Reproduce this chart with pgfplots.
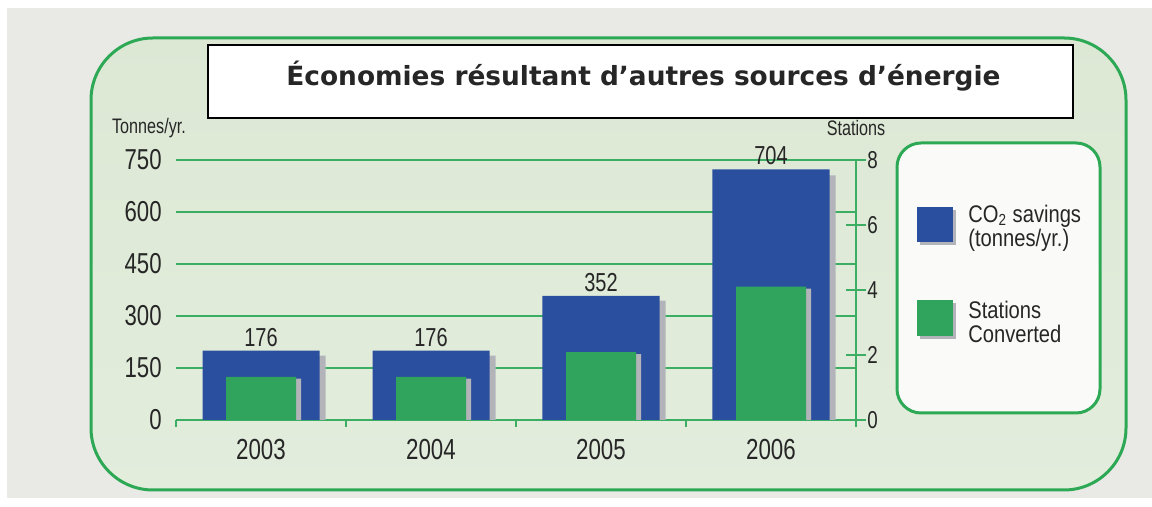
\documentclass[border=0pt]{standalone}
\usepackage{pgfplots}
\pgfplotsset{compat=1.18}
\usepackage{fontspec}
\setmainfont{Liberation Sans}[FakeStretch=0.77]
\newfontfamily\legfont{Liberation Sans}[FakeStretch=0.84]
\newfontfamily\titlefont{DejaVu Sans}

\definecolor{cobar}{HTML}{2B4F9F}
\definecolor{stbar}{HTML}{30A45D}
\definecolor{gline}{HTML}{3BAE63}
\definecolor{frame}{HTML}{2DA956}
\definecolor{shadow}{HTML}{B3B4BA}
\definecolor{txt}{HTML}{262626}
\definecolor{bggrey}{HTML}{E9E9E6}
\definecolor{ptop}{HTML}{D9E6D0}
\definecolor{pmid}{HTML}{E3EDDD}
\definecolor{pbot}{HTML}{F7F9F4}
\definecolor{legfill}{HTML}{FAFBF9}
\pgfdeclareverticalshading{panel}{100bp}{color(0bp)=(pbot); color(22bp)=(pmid); color(100bp)=(ptop)}

\begin{document}
\begin{tikzpicture}[x=1pt,y=1pt]
\path[use as bounding box] (0,0) rectangle (576,253.5);
\fill[white] (0,0) rectangle (576,253.5);
\fill[bggrey] (3.5,4.5) rectangle (576,249.5);

% panel
\shade[shading=panel, rounded corners=31pt] (45.5,8.5) rectangle (563,234.5);
\draw[frame, line width=1.5pt, rounded corners=31pt] (45.5,8.5) rectangle (563,234.5);

% title box
\draw[black, line width=1pt, fill=white] (104,194.5) rectangle (536.3,231);
\node[text=txt, font=\titlefont\bfseries\fontsize{13.2}{15}\selectfont] at (321.75,215.5)
  {Économies résultant d’autres sources d’énergie};

\node[text=txt, font=\fontsize{10.5}{12}\selectfont] at (74.5,189.5) {Tonnes/yr.};
\node[text=txt, font=\fontsize{10.5}{12}\selectfont] at (428,189.5) {Stations};

% CO2 savings, left axis
\begin{axis}[
  at={(88pt,43.5pt)}, anchor=south west,
  scale only axis, width=340pt, height=130pt,
  xmin=-0.5, xmax=3.5, ymin=0, ymax=750,
  axis x line*=bottom, axis y line*=left,
  x axis line style={gline, line width=1pt, -},
  y axis line style={draw=none},
  ytick={0,150,...,750},
  ymajorgrids, grid style={gline, line width=1pt},
  xtick={0,1,2,3}, xticklabels={2003,2004,2005,2006},
  extra x ticks={-0.5,0.5,1.5,2.5,3.5}, extra x tick labels={},
  extra x tick style={major tick length=3.5pt, tick align=outside},
  x tick style={gline, line width=1pt},
  major tick length=0pt,
  yticklabel style={font=\fontsize{14.4}{16}\selectfont, text=txt, anchor=east, inner sep=0pt, xshift=-7pt},
  xticklabel style={font=\fontsize{14.5}{16}\selectfont, text=txt, anchor=center, yshift=-15pt},
  /pgf/number format/assume math mode=true,
]
\addplot[ybar, bar width=58.5pt, bar shift=3pt, fill=shadow, draw=none]
  coordinates {(0,186) (1,186) (2,344) (3,706)};
\addplot[ybar, bar width=58.5pt, fill=cobar, draw=none,
  nodes near coords, point meta=explicit symbolic,
  every node near coord/.append style={font=\fontsize{13}{15}\selectfont, text=txt, inner sep=0pt, anchor=south, yshift=2pt}]
  coordinates {(0,200) [176] (1,200) [176] (2,358) [352] (3,723) [704]};
\end{axis}

% stations converted, right axis
\begin{axis}[
  at={(88pt,43.5pt)}, anchor=south west,
  scale only axis, width=340pt, height=130pt,
  xmin=-0.5, xmax=3.5, ymin=0, ymax=8,
  axis y line*=right, axis x line=none,
  y axis line style={gline, line width=1pt, -},
  ytick={0,2,4,6,8},
  ytick style={gline, line width=1pt},
  major tick length=10pt, tick align=center,
  yticklabel style={font=\fontsize{12.2}{14}\selectfont, text=txt, anchor=west, inner sep=0pt, xshift=0.5pt},
  /pgf/number format/assume math mode=true,
]
\addplot[ybar, bar width=35pt, bar shift=2.5pt, fill=shadow, draw=none]
  coordinates {(0,1.27) (1,1.27) (2,2.03) (3,4.04)};
\addplot[ybar, bar width=35pt, fill=stbar, draw=none]
  coordinates {(0,1.33) (1,1.33) (2,2.09) (3,4.1)};
\end{axis}

% legend
\draw[frame, line width=1.5pt, fill=legfill, rounded corners=12pt] (448.5,47) rectangle (550,182);
\fill[shadow] (460,131) rectangle (478,148.5);
\fill[cobar] (458.5,132.5) rectangle (476.5,150);
\fill[shadow] (460,84) rectangle (478,102);
\fill[stbar] (458.5,85.5) rectangle (476.5,103.5);
\node[anchor=west, align=left, inner sep=0pt, text=txt, font=\legfont\fontsize{12}{12}\selectfont] at (484,139.5)
  {CO\textsubscript{2} savings\\(tonnes/yr.)};
\node[anchor=west, align=left, inner sep=0pt, text=txt, font=\legfont\fontsize{12}{12}\selectfont] at (484,92.5)
  {Stations\\Converted};
\end{tikzpicture}
\end{document}
